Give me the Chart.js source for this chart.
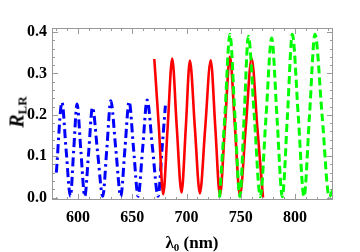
<!DOCTYPE html>
<html>
<head>
<meta charset="utf-8">
<script src="https://cdn.jsdelivr.net/npm/chart.js@4.4.0/dist/chart.umd.min.js"></script>
<style>
  html,body{margin:0;padding:0;background:#fff;}
  #wrap{position:relative;width:360px;height:252px;}
  #c{position:absolute;left:0;top:0;}
  .ttl{position:absolute;font-family:'Liberation Serif','Times New Roman',serif;font-weight:bold;color:#000;white-space:nowrap;}
  #ytitle{left:18px;top:112px;font-size:20px;transform:translate(-50%,-50%) rotate(-90deg);}
  #ytitle i{font-style:italic;}
  #ytitle sub{font-size:13px;vertical-align:-3px;}
  #xtitle{left:192px;top:243px;font-size:17px;transform:translate(-50%,-50%);}
  #xtitle sub{font-size:11px;vertical-align:-3px;}
</style>
</head>
<body>
<div id="wrap">
  <canvas id="c" width="360" height="252"></canvas>
  <div id="ytitle" class="ttl"><i>R</i><sub>LR</sub></div>
  <div id="xtitle" class="ttl">λ<sub>0</sub> (nm)</div>
</div>
<script>
// valores (nm, R_LR)
const blueX = [580,585.2,589,593,596,599.1,602.6,606.2,609.8,613.3,618,622.8,626.5,630.2,634.8,639.4,643.2,647.1,651.2,655.4,659.5,663.7,668.7,673.8,677.5,680.5];
const blueY = [0.06,0.23,0.115,0.003,0.115,0.226,0.113,0.003,0.11,0.218,0.11,0.003,0.117,0.234,0.117,0.003,0.117,0.232,0.117,0.003,0.117,0.236,0.118,0.003,0.12,0.222];

const redX = [670.3,674.5,678.5,682.6,686.8,691,695.4,699.3,703.1,707.7,712.3,717.2,722.3,726.5,730.8,735.4,740,744.6,749.2,754.6,760,765.3,770.5];
const redY = [0.335,0.17,0.008,0.17,0.336,0.17,0.012,0.168,0.331,0.168,0.01,0.168,0.332,0.17,0.005,0.172,0.341,0.172,0.005,0.17,0.336,0.168,0.0];

const greenX = [730.5,735.3,740,744.6,749.2,753.1,757,762.5,768,773.2,778.5,783.4,788.3,793,797.5,803,808.3,813.3,818.4,825,831.5,835];
const greenY = [0.0,0.197,0.395,0.197,0.002,0.195,0.39,0.195,0.002,0.193,0.386,0.193,0.002,0.197,0.395,0.197,0.002,0.197,0.395,0.197,0.002,0.02];

const xTicks = [600,650,700,750,800];
const yTicks = [0,0.1,0.2,0.3,0.4];
const xMinor = [580,590,610,620,630,640,660,670,680,690,710,720,730,740,760,770,780,790,810,820,830];
const yMinor = [0.02,0.04,0.06,0.08,0.12,0.14,0.16,0.18,0.22,0.24,0.26,0.28,0.32,0.34,0.36,0.38];

const pts = (xs, ys) => xs.map((x, i) => ({x, y: ys[i]}));
const TICKFONT = {family:"'Liberation Serif','Times New Roman',serif", size:16, weight:'bold'};

// marco con marcas hacia dentro en los 4 lados
const marco = {
  id:'marco',
  afterDatasetsDraw(chart) {
    const {ctx, chartArea:a, scales:{x, y}} = chart;
    ctx.save();
    ctx.strokeStyle = '#999';
    ctx.lineWidth = 1;
    ctx.strokeRect(a.left + .5, a.top + .5, a.right - a.left - 1, a.bottom - a.top - 1);
    ctx.beginPath();
    const tx = (v, len) => {
      const p = Math.round(x.getPixelForValue(v)) + .5;
      ctx.moveTo(p, a.bottom); ctx.lineTo(p, a.bottom - len);
      ctx.moveTo(p, a.top);    ctx.lineTo(p, a.top + len);
    };
    const ty = (v, len) => {
      const p = Math.round(y.getPixelForValue(v)) + .5;
      ctx.moveTo(a.left, p);  ctx.lineTo(a.left + len, p);
      ctx.moveTo(a.right, p); ctx.lineTo(a.right - len, p);
    };
    xTicks.forEach(v => tx(v, 6));
    xMinor.forEach(v => tx(v, 3));
    yTicks.forEach(v => ty(v, 6));
    yMinor.forEach(v => ty(v, 3));
    ctx.stroke();
    ctx.restore();
  }
};

new Chart(document.getElementById('c'), {
  type:'line',
  data:{datasets:[
    {data:pts(blueX, blueY), borderColor:'#0000ff', borderWidth:3, borderDash:[9,4,2.5,4], order:3},
    {data:pts(redX, redY), borderColor:'#ff0000', borderWidth:2.6, order:2},
    {data:pts(greenX, greenY), borderColor:'#00ff00', borderWidth:3, borderDash:[8,4], order:1}
  ]},
  options:{
    responsive:false, animation:false, events:[],
    layout:{padding:{left:0, right:27, top:28, bottom:0}},
    elements:{point:{radius:0}, line:{cubicInterpolationMode:'monotone', fill:false}},
    plugins:{legend:{display:false}, tooltip:{enabled:false}},
    scales:{
      x:{type:'linear', min:576, max:835,
         afterBuildTicks:s => { s.ticks = xTicks.map(v => ({value:v})); },
         afterFit:s => { s.height = 52; },
         grid:{display:false, drawTicks:false}, border:{display:false},
         ticks:{color:'#000', font:TICKFONT, padding:8, maxRotation:0}},
      y:{type:'linear', min:-0.006, max:0.41,
         afterBuildTicks:s => { s.ticks = yTicks.map(v => ({value:v})); },
         afterFit:s => { s.width = 52; },
         grid:{display:false, drawTicks:false}, border:{display:false},
         ticks:{color:'#000', font:TICKFONT, padding:5, callback:v => v.toFixed(1)}}
    }
  },
  plugins:[marco]
});
</script>
</body>
</html>
